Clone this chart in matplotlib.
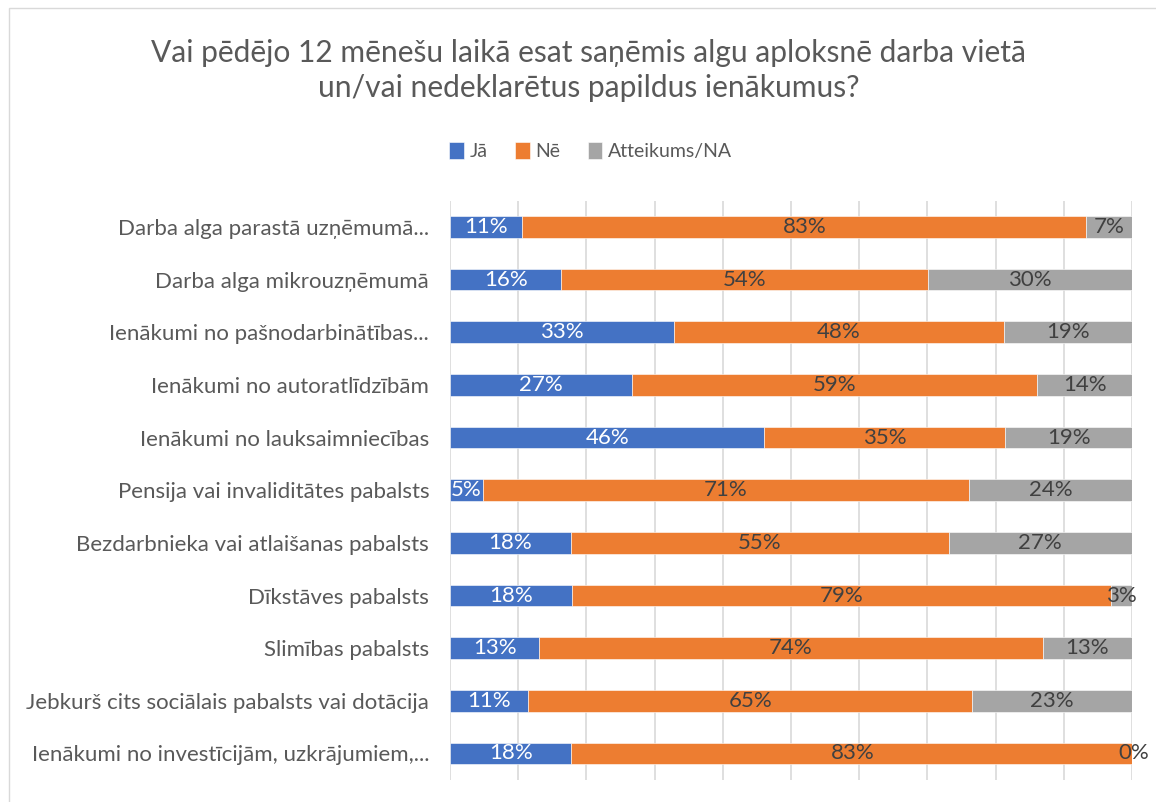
import matplotlib.pyplot as plt
from matplotlib.patches import Rectangle

plt.rcParams['font.family'] = ['Lato', 'DejaVu Sans']

categories = [
    "Darba alga parastā uzņēmumā...",
    "Darba alga mikrouzņēmumā",
    "Ienākumi no pašnodarbinātības...",
    "Ienākumi no autoratlīdzībām",
    "Ienākumi no lauksaimniecības",
    "Pensija vai invaliditātes pabalsts",
    "Bezdarbnieka vai atlaišanas pabalsts",
    "Dīkstāves pabalsts",
    "Slimības pabalsts",
    "Jebkurš cits sociālais pabalsts vai dotācija",
    "Ienākumi no investīcijām, uzkrājumiem,...",
]
ja = [10.6, 16.3, 32.8, 26.7, 46.1, 4.8, 17.7, 17.9, 13.1, 11.4, 17.8]
ne = [82.7, 53.8, 48.4, 59.4, 35.3, 71.3, 55.4, 79.0, 73.8, 65.2, 82.5]
na = [6.7, 29.9, 18.8, 13.9, 18.6, 23.9, 26.9, 3.1, 13.1, 23.4, 0.0]

series = [("Jā", ja, "#4472C4", "white"),
          ("Nē", ne, "#ED7D31", "#404040"),
          ("Atteikums/NA", na, "#A5A5A5", "#404040")]

fig = plt.figure(figsize=(11.56, 8.02), dpi=100)
fig.patches.append(Rectangle((9 / 1156, -0.1), 1.2, 1.1 - 8 / 802, transform=fig.transFigure,
                             fill=False, edgecolor="#D9D9D9", linewidth=1))

ax = fig.add_axes([0.3893, 0.0277, 0.5900, 0.7221])
y = range(len(categories))
left = [0.0] * len(categories)
handles = []
for name, vals, color, tcolor in series:
    bars = ax.barh(y, vals, left=left, height=0.41, color=color, label=name,
                   edgecolor="white", linewidth=0.4, zorder=3)
    handles.append(bars)
    for i, v in enumerate(vals):
        ax.text(left[i] + v / 2, i, f"{int(v + 0.5)}%", ha="center", va="center",
                color=tcolor, fontsize=16, zorder=4, clip_on=False)
    left = [a + b for a, b in zip(left, vals)]

ax.set_xlim(0, 100)
ax.set_ylim(len(categories) - 0.5, -0.5)
ax.set_xticks(range(0, 101, 10))
ax.set_xticklabels([])
ax.tick_params(axis="x", length=0)
ax.tick_params(axis="y", length=0, pad=15, labelsize=16, labelcolor="#595959")
ax.set_yticks(list(y))
ax.set_yticklabels(categories)
ax.grid(axis="x", color="#D9D9D9", linewidth=1.2, zorder=0)
for s in ax.spines.values():
    s.set_visible(False)

fig.text(0.5095, 0.912, "Vai pēdējo 12 mēnešu laikā esat saņēmis algu aploksnē darba vietā\nun/vai nedeklarētus papildus ienākumus?",
         ha="center", va="center", fontsize=21.6, color="#595959", linespacing=1.33)

fig.legend(handles=handles, loc="center", bbox_to_anchor=(0.511, 0.812), ncol=3, frameon=False,
           fontsize=14, handlelength=0.75, handleheight=1.0, handletextpad=0.3, columnspacing=1.4,
           labelcolor="#595959")

fig.savefig("out.png", dpi=100)
